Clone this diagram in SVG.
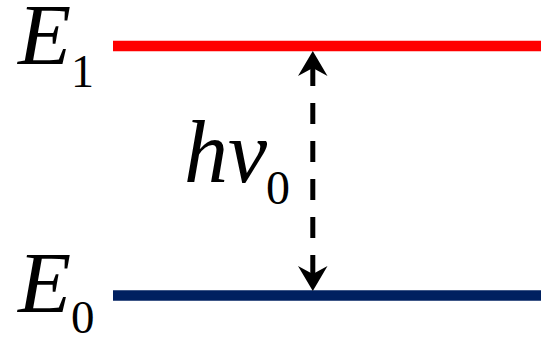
<svg xmlns="http://www.w3.org/2000/svg" width="542" height="338" viewBox="0 0 542 338">
<style>
.it{font-family:"Liberation Serif","Times New Roman",serif;font-style:italic;fill:#000}
.sub{font-family:"Liberation Serif","Times New Roman",serif;fill:#000}
</style>
<rect width="542" height="338" fill="#fff"/>
<g id="level-E1">
<line x1="113" y1="46" x2="541" y2="46" stroke="#ff0000" stroke-width="10.5"/>
<text class="it" x="18" y="64" font-size="87">E</text>
<text class="sub" x="71" y="87" font-size="46">1</text>
</g>
<g id="level-E0">
<line x1="113" y1="295.5" x2="541" y2="295.5" stroke="#002060" stroke-width="10.5"/>
<text class="it" x="18" y="312" font-size="87">E</text>
<text class="sub" x="71" y="333" font-size="47">0</text>
</g>
<g id="label-hv0">
<text class="it" x="184" y="182" font-size="88">hν</text>
<text class="sub" x="266" y="204" font-size="48">0</text>
</g>
<g id="connectors">
<line x1="312.8" y1="65" x2="312.8" y2="276" stroke="#000" stroke-width="5" stroke-dasharray="21 17"/>
<path d="M312.8 51 L327.5 76 L312.8 68 L298 76 Z" fill="#000"/>
<path d="M312.8 291 L327.5 266 L312.8 274 L298 266 Z" fill="#000"/>
</g>
</svg>
